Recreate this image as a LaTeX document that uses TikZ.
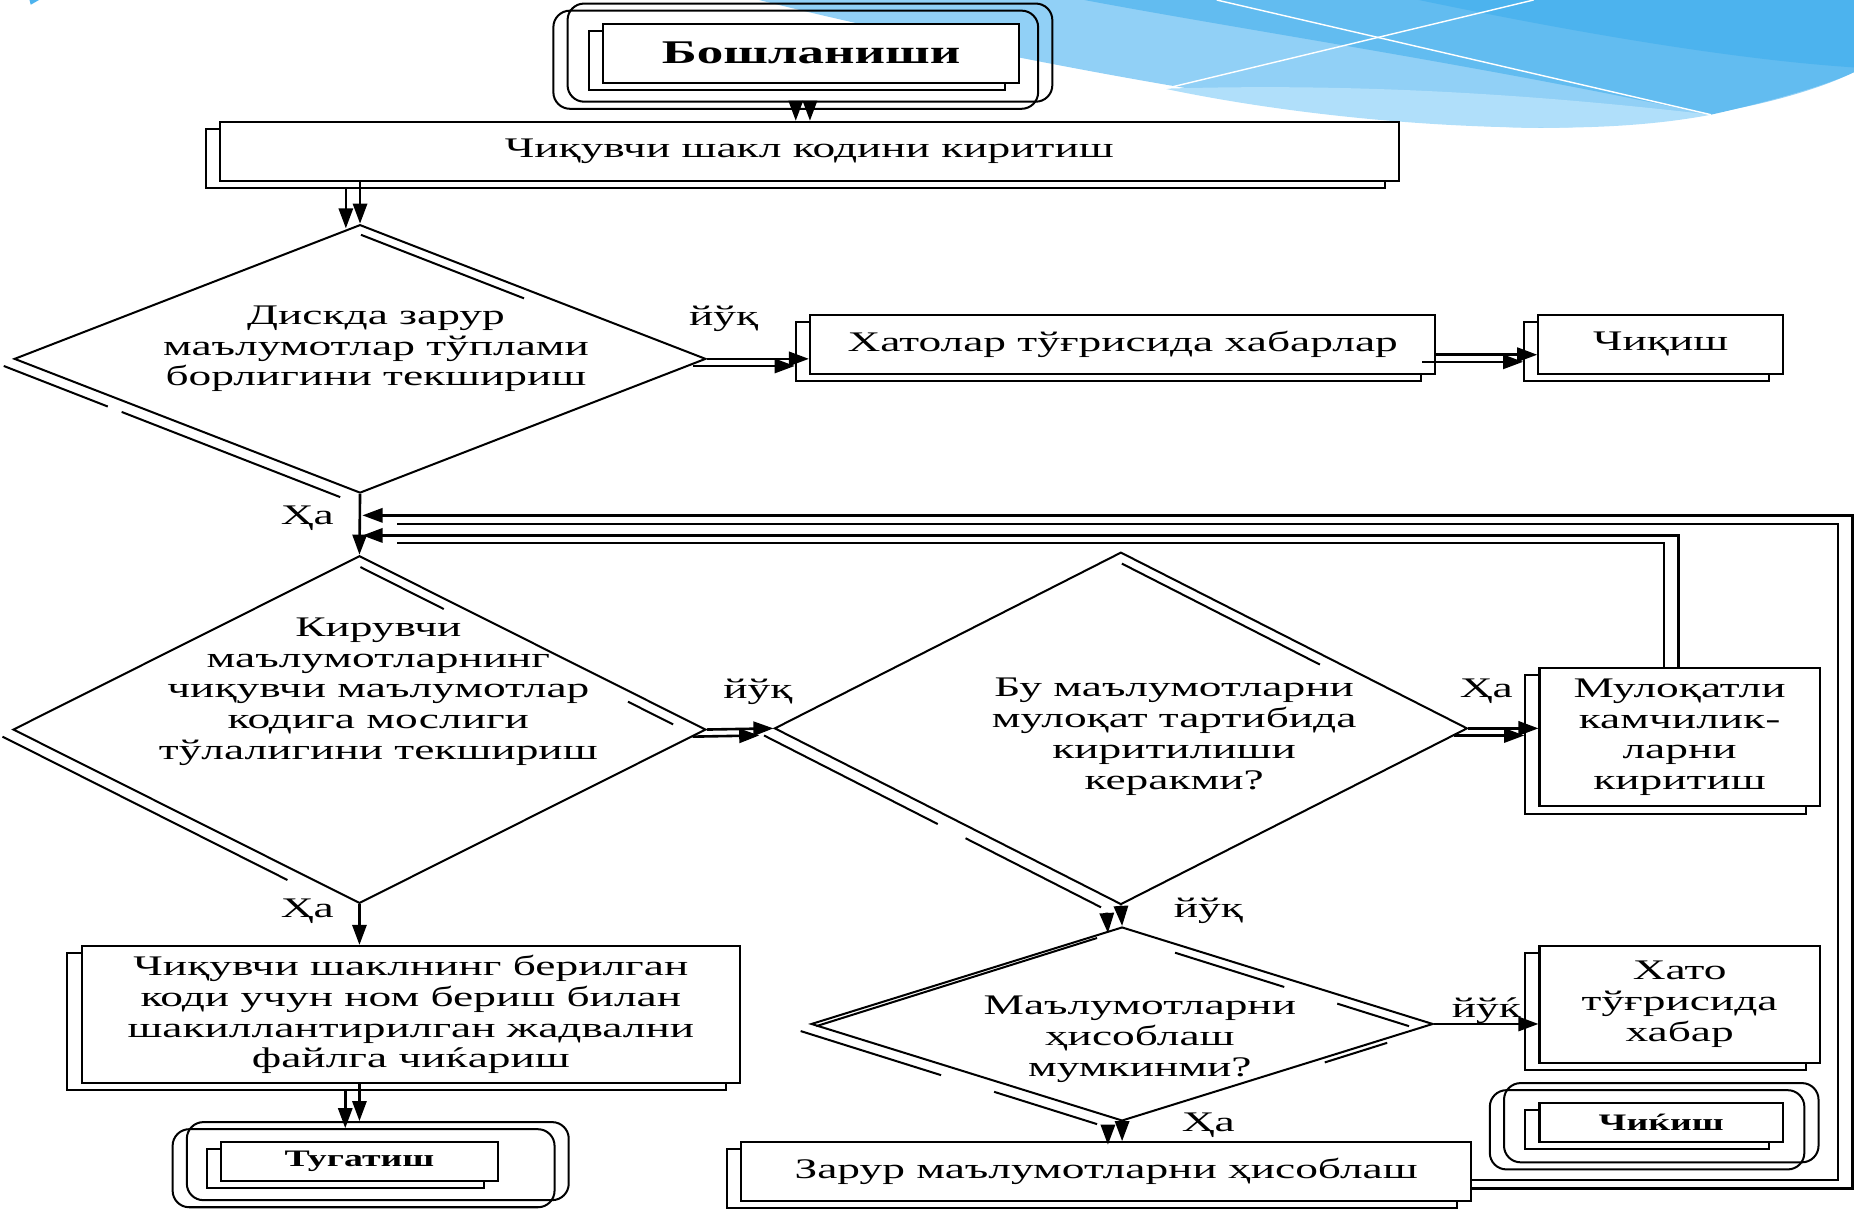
\documentclass[tikz,border=0pt]{standalone}
\usepackage{fontspec}
\setmainfont{Liberation Serif}[FakeStretch=1.6]
\usetikzlibrary{calc,arrows.meta,shapes.geometric,shadows}

\definecolor{wavelight}{RGB}{145,208,246}
\definecolor{wavepale}{RGB}{176,223,250}
\definecolor{wavemid}{RGB}{98,188,240}
\definecolor{wavedark}{RGB}{76,179,238}

\newcommand{\boxfont}{\fontsize{12}{13}\selectfont}
\newcommand{\bigterm}{\fontsize{14}{16}\selectfont\bfseries}
\newcommand{\smallterm}{\fontsize{10}{12}\selectfont\bfseries}
% one shifted piece of a diamond edge
\newcommand{\dseg}[5]{\draw ($(#1.#2)!#4!(#1.#3)+(-8,6)$) -- ($(#1.#2)!#5!(#1.#3)+(-8,6)$);}

\tikzset{every picture/.style={line width=0.85pt}}
\tikzset{
  box/.style={draw, fill=white, inner sep=0pt, align=center, font=\boxfont,
    copy shadow={shadow xshift=-6pt, shadow yshift=-3pt, line width=0.85pt}},
  frame/.style={draw, rounded corners=7pt, inner sep=0pt,
    general shadow={shadow xshift=-6pt, shadow yshift=-3pt, draw, line width=0.85pt}},
  dia/.style={draw, shape=diamond, inner sep=0pt},
  txt/.style={align=center, font=\boxfont, inner sep=0pt},
  lbl/.style={font=\boxfont, inner sep=0pt},
  arr/.style={-{Triangle[length=8.5pt,width=6pt]}, line width=1.1pt}
}

\begin{document}
\begin{tikzpicture}[x=0.5pt,y=0.5pt,yscale=-1,xscale=1]
\useasboundingbox (0,0) rectangle (1568,1024);

% background wave
\fill[wavelight] (642,0) .. controls (800,40) and (1150,110) .. (1310,108) .. controls (1440,106) and (1530,80) .. (1568,61) -- (1568,0) -- cycle;
\fill[wavepale] (985,75) .. controls (1150,70) and (1300,80) .. (1447,97) .. controls (1400,106) and (1350,108) .. (1310,108) .. controls (1200,108) and (1080,95) .. (985,75) -- cycle;
\fill[wavemid] (917,0) .. controls (1050,25) and (1250,55) .. (1447,97) .. controls (1500,85) and (1545,72) .. (1568,61) -- (1568,0) -- cycle;
\fill[wavedark] (1200,0) .. controls (1320,25) and (1460,50) .. (1568,57) -- (1568,0) -- cycle;
\draw[white, line width=0.6pt] (1029,0) -- (1447,97);
\draw[white, line width=0.6pt] (985,75) -- (1297,0);
\fill[wavedark] (25,0) -- (33,0) -- (26,4) -- cycle;

% terminals
\node[frame, minimum width=205pt, minimum height=41.5pt] (startf) at (685,44.5) {};
\node[box, font=\bigterm, minimum width=176pt, minimum height=25pt] (start) at (686,45) {Бошланиши};
\node[frame, minimum width=161.5pt, minimum height=33pt] (endf) at (319.5,982) {};
\node[box, font=\smallterm, minimum width=117pt, minimum height=16.5pt] (endb) at (304,982.5) {Тугатиш};
\node[frame, minimum width=133pt, minimum height=33.5pt] (ex2f) at (1405,949.5) {};
\node[box, font=\smallterm, minimum width=103pt, minimum height=16.5pt] (ex2) at (1405,949.5) {Чиќиш};

% boxes
\node[box, minimum width=498.5pt, minimum height=25pt] (b1) at (684.5,128) {Чиқувчи шакл кодини киритиш};
\node[box, minimum width=264.5pt, minimum height=25pt] (err) at (949.5,291) {Хатолар тўғрисида хабарлар};
\node[box, minimum width=103.5pt, minimum height=25pt] (ex1) at (1404.5,291) {Чиқиш};
\node[box, minimum width=118.5pt, minimum height=58.5pt] (mul) at (1420.5,623.5) {Мулоқатли\\камчилик-\\ларни\\киритиш};
\node[box, minimum width=118.5pt, minimum height=49.5pt] (hato) at (1420.5,849.5) {Хато\\тўғрисида\\хабар};
\node[box, minimum width=308.5pt, minimum height=25pt] (zar) at (935.5,991) {Зарур маълумотларни ҳисоблаш};
\node[box, minimum width=278.5pt, minimum height=58pt] (out) at (347.5,858) {Чиқувчи шаклнинг берилган\\коди учун ном бериш билан\\шакиллантирилган жадвални\\файлга чиќариш};

% decisions
\node[dia, minimum width=292.5pt, minimum height=113.5pt] (d1) at (304.5,303.5) {};
\node[txt] (d1t) at (318,295) {Дискда зарур\\маълумотлар тўплами\\борлигини текшириш};
\node[dia, minimum width=293pt, minimum height=147pt] (d2) at (304,617) {};
\node[txt] (d2t) at (320,585) {Кирувчи\\маълумотларнинг\\чиқувчи маълумотлар\\кодига мослиги\\тўлалигини текшириш};
\node[dia, minimum width=293pt, minimum height=149pt] (d3) at (948,616) {};
\node[txt] (d3t) at (993,623) {Бу маълумотларни\\мулоқат тартибида\\киритилиши\\керакми?};
\node[dia, minimum width=263pt, minimum height=82pt] (d4) at (949,866) {};
\node[txt] (d4t) at (964,879) {Маълумотларни\\ҳисоблаш\\мумкинми?};

% doubled diamond edges
\dseg{d1}{north}{east}{0.03}{0.5}
\dseg{d1}{west}{south}{0}{0.3}
\dseg{d1}{west}{south}{0.34}{0.97}
\dseg{d2}{north}{east}{0.03}{0.27}
\dseg{d2}{north}{east}{0.8}{0.93}
\dseg{d2}{west}{south}{0}{0.82}
\dseg{d3}{north}{east}{0.03}{0.6}
\dseg{d3}{west}{south}{0}{0.5}
\dseg{d3}{west}{south}{0.58}{0.97}
\dseg{d4}{north}{east}{0.2}{0.55}
\dseg{d4}{north}{east}{0.72}{0.95}
\dseg{d4}{west}{south}{0}{0.45}
\dseg{d4}{west}{south}{0.62}{0.95}
\dseg{d4}{west}{north}{0.05}{0.95}
\dseg{d4}{east}{south}{0.12}{0.32}

% labels
\node[lbl] (l1) at (612,270) {йўқ};
\node[lbl] (l2) at (260,438) {Ҳа};
\node[lbl] (l3) at (641,585) {йўқ};
\node[lbl] (l4) at (260,771) {Ҳа};
\node[lbl] (l5) at (1257,585) {Ҳа};
\node[lbl] (l6) at (1022,770) {йўқ};
\node[lbl] (l7) at (1257,855) {йўќ};
\node[lbl] (l8) at (1022,952) {Ҳа};

% connectors
\draw[arr] (startf.south) -- (startf.south |- b1.north);
\draw[arr] ($(startf.south)+(-12,6)$) -- ($(startf.south |- b1.north)+(-12,0)$);
\draw[arr] (d1.north |- b1.south) -- (d1.north);
\draw[arr] ($(d1.north |- b1.south)+(-12,6)$) -- ($(d1.north)+(-12,4)$);
\draw[arr] (d1.east) -- (d1.east -| err.west);
\draw[arr] ($(d1.east)+(-12,6)$) -- ($(d1.east -| err.west)+(-12,6)$);
\draw[arr] ($(err.east)+(0,9)$) -- ($(ex1.west)+(0,9)$);
\draw[arr] ($(err.east)+(-12,15)$) -- ($(ex1.west)+(-12,15)$);
\draw[arr] (d1.south) -- (d2.north);
\draw[arr] (d2.east) -- (d3.west);
\draw[arr] ($(d2.east)+(-12,6)$) -- ($(d3.west)+(-12,6)$);
\draw[arr] (d3.east) -- (d3.east -| mul.west);
\draw[arr] ($(d3.east)+(-12,6)$) -- ($(d3.east -| mul.west)+(-12,6)$);
\draw[arr] (d3.south) -- (d4.north);
\draw[arr] ($(d3.south)+(-12,6)$) -- ($(d4.north)+(-12,6)$);
\draw[arr] (d4.east) -- (d4.east -| hato.west);
\draw[arr] (d4.south) -- (d4.south |- zar.north);
\draw[arr] ($(d4.south)+(-12,6)$) -- ($(d4.south |- zar.north)+(-12,3)$);
\draw[arr] (d2.south) -- (d2.south |- out.north);
\draw[arr] (d2.south |- out.south) -- (d2.south |- endf.north);
\draw[arr] ($(d2.south |- out.south)+(-12,6)$) -- ($(d2.south |- endf.north)+(-12,6)$);

% return lines
\coordinate (jA) at ($(d1.south)+(2,18)$);
\coordinate (jA2) at ($(d1.south)+(31,25)$);
\coordinate (jB) at ($(d1.south)+(2,35)$);
\coordinate (jB2) at ($(d1.south)+(31,41)$);
\draw[arr] ($(zar.east)+(0,14)$) -- ++(322,0) |- (jA);
\draw ($(zar.east)+(0,7)$) -- ++(310,0) |- (jA2);
\draw[arr] ($(mul.north)+(-1,0)$) |- (jB);
\draw ($(mul.north)+(-13,0)$) |- (jB2);

\end{tikzpicture}
\end{document}
